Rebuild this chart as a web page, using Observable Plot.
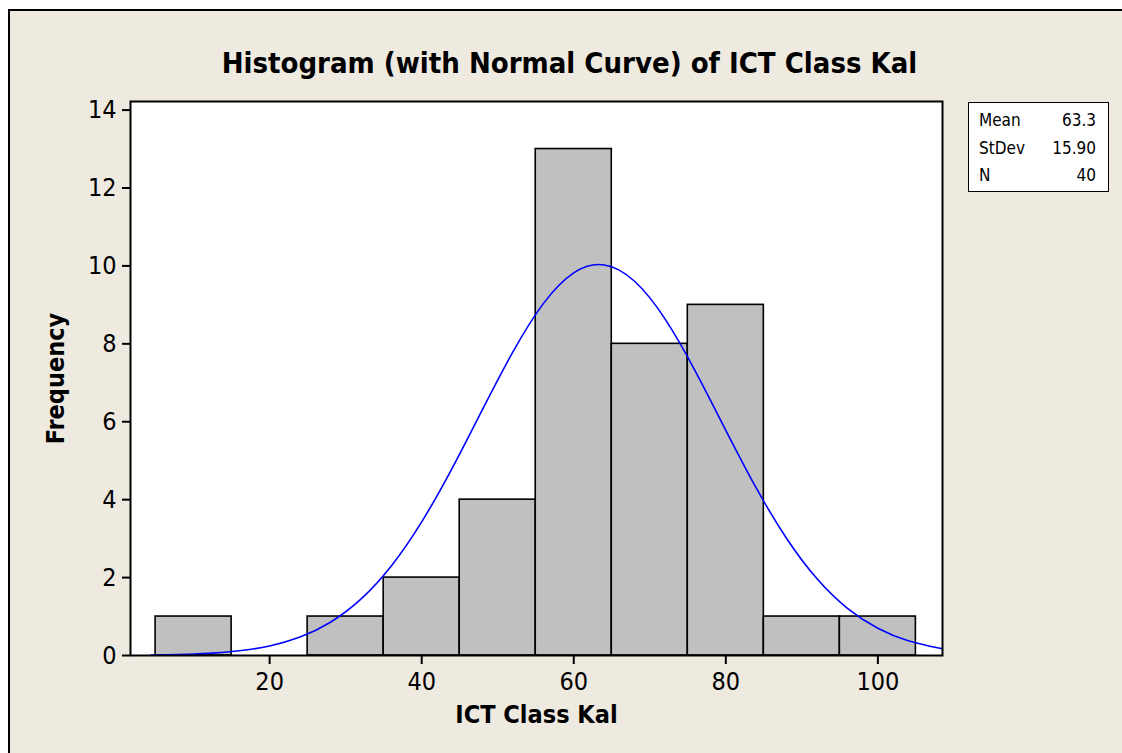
<!DOCTYPE html>
<html>
<head>
<meta charset="utf-8">
<script src="https://cdn.jsdelivr.net/npm/d3@7"></script>
<script src="https://cdn.jsdelivr.net/npm/@observablehq/plot@0.6"></script>
<style>
  html, body { margin:0; padding:0; background:#ffffff; }
  #page { position:relative; width:1122px; height:753px; overflow:hidden; background:#ffffff; }
  #panel { position:absolute; left:8px; top:9px; width:1114px; height:744px; background:#EEEAE0;
           border-left:2px solid #000; border-top:2px solid #000; box-sizing:border-box; }
  #chart { position:absolute; left:0; top:0; }
  #stats { position:absolute; left:968px; top:102px; width:141px; height:90px; background:#fff;
           border:1.5px solid #000; box-sizing:border-box; font-family:'DejaVu Sans Condensed','DejaVu Sans',sans-serif;
           font-size:17px; color:#000; padding:4px 12px 0 10px; }
  #stats .row { display:flex; justify-content:space-between; height:27.5px; line-height:27.5px; }
</style>
</head>
<body>
<div id="page">
  <div id="panel"></div>
  <div id="chart"></div>
  <div id="stats"></div>
</div>
<script>
// ---- data ----
const binLow   = [5, 15, 25, 35, 45, 55, 65, 75, 85, 95];
const binHigh  = [15, 25, 35, 45, 55, 65, 75, 85, 95, 105];
const counts   = [1, 0, 1, 2, 4, 13, 8, 9, 1, 1];

// normal curve
const curveX = [4.4, 8, 12, 16, 20, 24, 28, 32, 36, 40, 44, 48, 52, 56, 60, 64, 68, 72, 76, 80, 84, 88, 92, 96, 100, 104, 108, 108.5];
const curveY = [0.01, 0.024, 0.055, 0.12, 0.246, 0.473, 0.854, 1.445, 2.298, 3.43, 4.804, 6.316, 7.795, 9.032, 9.821, 10.025, 9.606, 8.64, 7.295, 5.781, 4.3, 3.003, 1.968, 1.211, 0.699, 0.379, 0.193, 0.177];

const xTicks = [20, 40, 60, 80, 100];
const yTicks = [0, 2, 4, 6, 8, 10, 12, 14];

const titleText = "Histogram (with Normal Curve) of ICT Class Kal";
const xLabel = "ICT Class Kal";
const yLabel = "Frequency";

const statLabels = ["Mean", "StDev", "N"];
const statValues = ["63.3", "15.90", "40"];

// ---- build ----
const FONT = "'DejaVu Sans Condensed','DejaVu Sans',sans-serif";
const bins = binLow.map((lo, i) => ({x1: lo, x2: binHigh[i], count: counts[i]}));
const curve = curveX.map((x, i) => ({x, y: curveY[i]}));

const chart = Plot.plot({
  width: 1122,
  height: 753,
  marginLeft: 130,
  marginRight: 180,
  marginTop: 101,
  marginBottom: 98,
  style: {background: "transparent", fontFamily: FONT, fontSize: "25px", color: "#000", overflow: "visible"},
  x: {domain: [1.7, 108.5]},
  y: {domain: [0, 14.22]},
  marks: [
    Plot.frame({fill: "#ffffff", stroke: "none"}),
    Plot.rectY(bins, {x1: "x1", x2: "x2", y: "count", fill: "#C0C0C0", stroke: "#000", strokeWidth: 1.6}),
    Plot.line(curve, {x: "x", y: "y", stroke: "#0000FF", strokeWidth: 1.6, curve: "natural", clip: true}),
    Plot.frame({stroke: "#000", strokeWidth: 2}),
    Plot.axisX({ticks: xTicks, tickSize: 9, tickPadding: 8, label: null, strokeWidth: 2, fontSize: 25}),
    Plot.axisY({ticks: yTicks, tickSize: 8, tickPadding: 6, label: null, strokeWidth: 2, fontSize: 25}),
    Plot.text([titleText], {frameAnchor: "top", textAnchor: "middle", lineAnchor: "middle", dx: 33, dy: -37.6, fontWeight: "bold", fontSize: 29, fill: "#000"}),
    Plot.text([xLabel], {frameAnchor: "bottom", textAnchor: "middle", lineAnchor: "middle", dy: 59.7, fontWeight: "bold", fontSize: 25, fill: "#000"}),
    Plot.text([yLabel], {frameAnchor: "left", textAnchor: "middle", lineAnchor: "middle", dx: -75, rotate: -90, fontWeight: "bold", fontSize: 25, fill: "#000"})
  ]
});
document.getElementById("chart").appendChild(chart);

const stats = document.getElementById("stats");
statLabels.forEach((lab, i) => {
  const row = document.createElement("div");
  row.className = "row";
  const a = document.createElement("span"); a.textContent = lab;
  const b = document.createElement("span"); b.textContent = statValues[i];
  row.appendChild(a); row.appendChild(b);
  stats.appendChild(row);
});
</script>
</body>
</html>
